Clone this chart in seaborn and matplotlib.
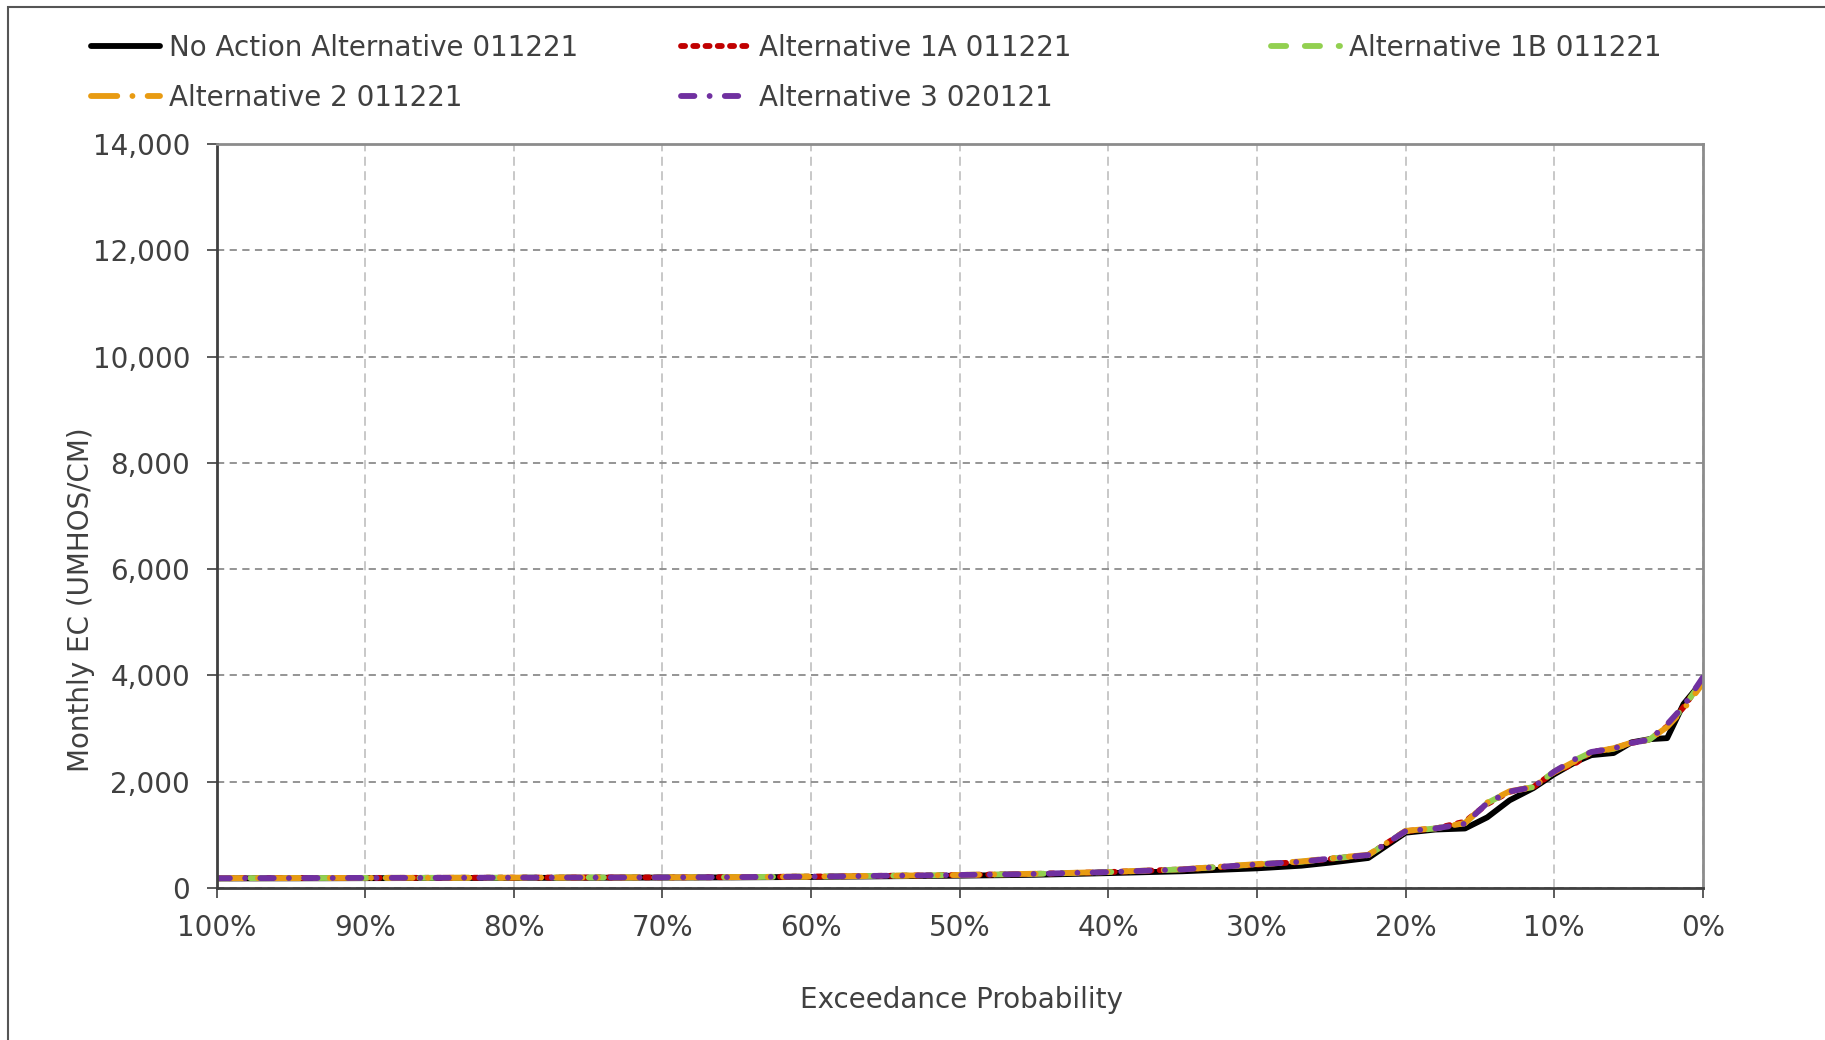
import matplotlib
matplotlib.use("Agg")
import matplotlib.pyplot as plt
import seaborn as sns
from matplotlib.patches import Rectangle
from matplotlib.ticker import FuncFormatter

# %% data
exceedance = [100, 95, 90, 85, 80, 75, 70, 65, 60, 55, 50, 45, 40, 35, 30, 27, 25,
              22.5, 20, 18, 16, 14.5, 13, 11.4, 10, 8.5, 7.5, 6, 4.8, 3.6, 2.4, 1.3, 0]

no_action = [180, 182, 185, 188, 190, 193, 196, 200, 208, 220, 232, 248, 280, 315, 370, 420, 480,
             565, 1040, 1100, 1120, 1330, 1650, 1880, 2140, 2380, 2500, 2540, 2740, 2800, 2820, 3460, 3900]
alt_1a = [185, 187, 190, 192, 195, 198, 200, 205, 215, 230, 245, 265, 300, 350, 440, 490, 550,
          620, 1070, 1120, 1250, 1580, 1810, 1900, 2180, 2360, 2560, 2620, 2730, 2790, 3040, 3400, 3920]
alt_1b = [185, 187, 190, 192, 195, 198, 200, 205, 215, 230, 245, 265, 300, 350, 445, 495, 555,
          620, 1070, 1120, 1220, 1600, 1815, 1900, 2190, 2420, 2555, 2620, 2730, 2790, 3040, 3400, 3910]
alt_2 = [185, 187, 190, 192, 195, 198, 200, 205, 215, 230, 245, 268, 302, 352, 450, 500, 560,
         625, 1075, 1125, 1220, 1610, 1820, 1900, 2180, 2400, 2550, 2630, 2735, 2790, 3030, 3360, 3850]
alt_3 = [185, 187, 190, 192, 195, 198, 200, 205, 215, 230, 245, 265, 300, 350, 445, 495, 555,
         620, 1070, 1120, 1210, 1600, 1815, 1900, 2190, 2440, 2560, 2625, 2730, 2790, 3080, 3420, 3960]

series_names = ["No Action Alternative 011221", "Alternative 1A 011221", "Alternative 1B 011221",
                "Alternative 2 011221", "Alternative 3 020121"]
series_values = [no_action, alt_1a, alt_1b, alt_2, alt_3]
colors = ["#000000", "#C00000", "#92D050", "#E89B12", "#7030A0"]
line_styles = ["-", (0, (0.7, 1.4)), (0, (2.6, 3.2)), (0, (4.5, 2.6, 0.01, 2.6)), (0, (2.3, 2.6, 0.01, 2.6))]

x_ticks = list(range(100, -1, -10))
y_ticks = list(range(0, 14001, 2000))

# %% style
sns.set_theme(style="white")
plt.rcParams["font.family"] = ["DejaVu Sans"]
txt_color = "#404040"

fig = plt.figure(figsize=(18.25, 10.4), dpi=100)
ax = fig.add_axes([216.5 / 1825, 1 - 888 / 1040, (1702.8 - 216.5) / 1825, (888 - 144) / 1040])

for name, vals, c, ls in zip(series_names, series_values, colors, line_styles):
    sns.lineplot(x=exceedance, y=vals, ax=ax, color=c, linewidth=4.2, linestyle=ls,
                 dash_capstyle="round", solid_capstyle="round", sort=False, legend=False)

ax.set_xlim(100, 0)
ax.set_ylim(0, 14000)
ax.set_xticks(x_ticks)
ax.set_yticks(y_ticks)
ax.xaxis.set_major_formatter(FuncFormatter(lambda v, p: f"{int(round(v))}%"))
ax.yaxis.set_major_formatter(FuncFormatter(lambda v, p: f"{int(v):,}"))

ax.yaxis.grid(True, color="#8c8c8c", linestyle=(0, (4, 3)), linewidth=1.3)
ax.xaxis.grid(True, color="#c4c4c4", linestyle=(0, (5, 3)), linewidth=1.3)
ax.set_axisbelow(True)

for s in ["left", "bottom"]:
    ax.spines[s].set_color("#404040")
    ax.spines[s].set_linewidth(2)
for s in ["top", "right"]:
    ax.spines[s].set_color("#8c8c8c")
    ax.spines[s].set_linewidth(2)

ax.tick_params(axis="both", direction="out", length=7, width=1.2, color="#404040",
               labelsize=20, labelcolor=txt_color, pad=12, left=True, bottom=True)

ax.set_ylabel("Monthly EC (UMHOS/CM)", fontsize=20, color=txt_color)
ax.yaxis.set_label_coords(-0.082, 0.388)
ax.set_xlabel("Exceedance Probability", fontsize=20, color=txt_color)
ax.xaxis.set_label_coords(0.501, -0.132)

# legends, one per column
lines = ax.get_lines()
cols = [([0, 3], 91), ([1, 4], 681), ([2], 1271)]
for idx, xpx in cols:
    fig.legend([lines[i] for i in idx], [series_names[i] for i in idx],
               loc="upper left", bbox_to_anchor=(xpx / 1825, 1 - 34 / 1040),
               frameon=False, fontsize=20, labelcolor=txt_color, handlelength=2.5,
               handletextpad=0.3, borderpad=0, borderaxespad=0, labelspacing=0.8)

# figure frame (only top/left visible in the reference)
fig.add_artist(Rectangle((8 / 1825, -0.5), 2, 0.5 + 1 - 7 / 1040, transform=fig.transFigure,
                         fill=False, ec="#555555", lw=1.5, clip_on=False))

fig.savefig("out.png", dpi=100)
